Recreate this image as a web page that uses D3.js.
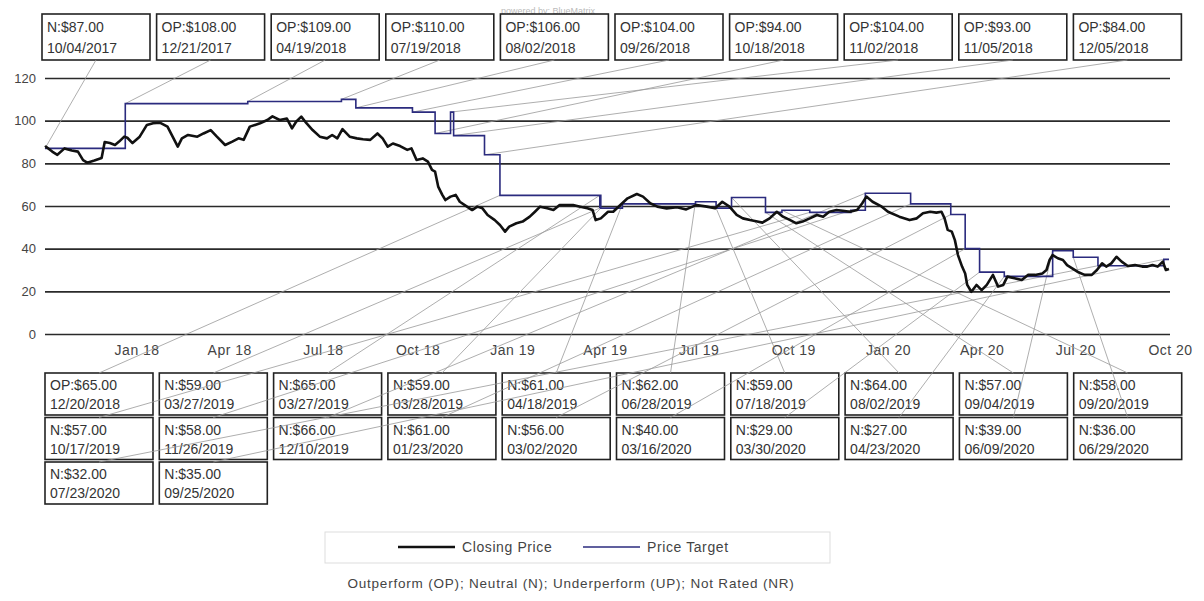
<!DOCTYPE html>
<html>
<head>
<meta charset="utf-8" />
<title>Price target history</title>
<script src="https://d3js.org/d3.v7.min.js"></script>
<style>
  body { margin: 0; background: #fff; }
  text { font-family: "Liberation Sans", Arial, sans-serif; }
</style>
</head>
<body>
<script>
// rating changes / price targets
var ratingCodes = ["N","OP","OP","OP","OP","OP","OP","OP","OP","OP",
                   "OP","N","N","N","N","N","N","N","N","N",
                   "N","N","N","N","N","N","N","N","N","N",
                   "N","N"];
var targetPrices = [87,108,109,110,106,104,94,104,93,84,
                    65,59,65,59,61,62,59,64,57,58,
                    57,58,66,61,56,40,29,27,39,36,
                    32,35];
var targetDates = ["10/04/2017","12/21/2017","04/19/2018","07/19/2018","08/02/2018","09/26/2018","10/18/2018","11/02/2018","11/05/2018","12/05/2018",
                   "12/20/2018","03/27/2019","03/27/2019","03/28/2019","04/18/2019","06/28/2019","07/18/2019","08/02/2019","09/04/2019","09/20/2019",
                   "10/17/2019","11/26/2019","12/10/2019","01/23/2020","03/02/2020","03/16/2020","03/30/2020","04/23/2020","06/09/2020","06/29/2020",
                   "07/23/2020","09/25/2020"];

// closing price (roughly weekly)
var closeDates = ["2017-10-04","2017-10-05","2017-10-11","2017-10-16","2017-10-23","2017-10-30","2017-11-05","2017-11-10","2017-11-14","2017-11-21",
  "2017-11-28","2017-12-01","2017-12-06","2017-12-11","2017-12-15","2017-12-20","2017-12-23","2017-12-28","2018-01-04","2018-01-11",
  "2018-01-17","2018-01-24","2018-01-31","2018-02-05","2018-02-10","2018-02-14","2018-02-20","2018-03-01","2018-03-07","2018-03-14",
  "2018-03-20","2018-03-28","2018-04-04","2018-04-10","2018-04-15","2018-04-21","2018-05-01","2018-05-08","2018-05-13","2018-05-20",
  "2018-05-27","2018-06-01","2018-06-05","2018-06-10","2018-06-15","2018-06-21","2018-06-28","2018-07-05","2018-07-10","2018-07-15",
  "2018-07-20","2018-07-27","2018-08-03","2018-08-09","2018-08-16","2018-08-23","2018-08-28","2018-09-02","2018-09-07","2018-09-14",
  "2018-09-21","2018-09-25","2018-09-30","2018-10-06","2018-10-11","2018-10-15","2018-10-18","2018-10-21","2018-10-25","2018-10-28",
  "2018-11-02","2018-11-07","2018-11-11","2018-11-18","2018-11-23","2018-11-28","2018-12-03","2018-12-08","2018-12-15","2018-12-20",
  "2018-12-25","2018-12-29","2019-01-05","2019-01-11","2019-01-18","2019-01-23","2019-01-28","2019-02-04","2019-02-10","2019-02-16",
  "2019-02-23","2019-03-01","2019-03-08","2019-03-15","2019-03-20","2019-03-23","2019-03-28","2019-04-04","2019-04-09","2019-04-16",
  "2019-04-23","2019-05-02","2019-05-08","2019-05-15","2019-05-22","2019-05-31","2019-06-10","2019-06-19","2019-06-29","2019-07-09",
  "2019-07-17","2019-07-24","2019-07-31","2019-08-07","2019-08-13","2019-08-20","2019-08-27","2019-09-01","2019-09-08","2019-09-15",
  "2019-09-21","2019-09-28","2019-10-04","2019-10-10","2019-10-17","2019-10-24","2019-10-30","2019-11-05","2019-11-12","2019-11-18",
  "2019-11-25","2019-12-02","2019-12-07","2019-12-11","2019-12-17","2019-12-26","2020-01-01","2020-01-12","2020-01-22","2020-01-29",
  "2020-02-04","2020-02-11","2020-02-17","2020-02-22","2020-02-25","2020-02-28","2020-03-03","2020-03-06","2020-03-09","2020-03-13",
  "2020-03-16","2020-03-18","2020-03-22","2020-03-27","2020-04-01","2020-04-06","2020-04-12","2020-04-17","2020-04-22","2020-04-26",
  "2020-05-03","2020-05-10","2020-05-16","2020-05-23","2020-05-30","2020-06-03","2020-06-06","2020-06-09","2020-06-14","2020-06-19",
  "2020-06-23","2020-06-28","2020-07-03","2020-07-10","2020-07-17","2020-07-22","2020-07-27","2020-07-31","2020-08-05","2020-08-10",
  "2020-08-15","2020-08-21","2020-08-28","2020-09-04","2020-09-09","2020-09-14","2020-09-19","2020-09-24","2020-09-27","2020-09-30"];
var closePrices = [87.5,87.8,85.5,84,87,86,85.5,81.5,80.3,81.3,
  82.5,90,89.5,88.6,90.2,92.5,92,89.5,92.5,98,
  98.8,99,97.2,92.5,87.8,91.7,93.3,92.5,94,95.6,
  92.5,88.6,90.2,91.7,91,97.2,98.8,100.3,102,100.3,
  101,96.4,99.5,101.9,98.8,95.6,92.5,91.7,93.3,91.7,
  96,92.5,91.7,91.3,91,94,91.7,87.8,89.3,88.1,
  86.3,87,81.6,82.3,80.8,76.9,76.1,69.1,65.2,62.8,
  64.4,65.2,62,59.7,58.1,59.7,58.9,55.8,53.4,51.1,
  48,50.3,51.9,52.7,55,57.3,59.7,58.9,58.1,60.5,
  60.5,60.5,59.7,58.9,58.1,53.4,54.2,57.3,57.3,60.5,
  63.6,65.6,64.4,61.3,59.7,58.9,59.4,58.4,60.5,59.7,
  58.9,62,59.7,55.8,54.2,53.4,52.7,52.2,54.2,57.3,
  55,53.4,51.9,52.7,54.2,55.8,55,57.3,58.1,57.8,
  57.3,58.1,61.3,64.4,62,59.7,57.3,55,53.4,54.2,
  56.6,57.3,56.9,57.3,54.2,48.8,48,44,37,31.6,
  28.4,23,19.8,23,20.6,23,27.7,22.2,23,26.9,
  26.1,25.3,27.7,27.7,28.4,30,34.7,37,35.5,34.7,
  32.3,30.8,29.2,27.7,27.7,30,33.1,31.6,33.1,36.2,
  33.9,31.9,32.3,31.6,31.6,32.3,31.6,33.9,30,30.5];

var yTicks = [0, 20, 40, 60, 80, 100, 120];
var xTickDates = ["2018-01-01","2018-04-01","2018-07-01","2018-10-01","2019-01-01","2019-04-01",
                  "2019-07-01","2019-10-01","2020-01-01","2020-04-01","2020-07-01","2020-10-01"];
var seriesNames = ["Closing Price", "Price Target"];
var seriesColors = ["#111111", "#2b2b7e"];
var footnote = "Outperform (OP); Neutral (N); Underperform (UP); Not Rated (NR)";

var W = 1204, H = 601;
var parseIso = d3.timeParse("%Y-%m-%d");
var parseUs = d3.timeParse("%m/%d/%Y");
var endDate = parseIso("2020-09-30");

var svg = d3.select("body").append("svg")
    .attr("width", W)
    .attr("height", H);

var x = d3.scaleTime()
    .domain([parseIso("2017-10-04"), parseIso("2020-10-01")])
    .range([45, 1170]);
var y = d3.scaleLinear()
    .domain([0, 120])
    .range([334, 78]);

svg.append("text")
    .attr("x", 548).attr("y", 14)
    .attr("text-anchor", "middle")
    .attr("font-size", 9)
    .attr("fill", "#bbb")
    .text("powered by: BlueMatrix");

// gridlines + y labels
var yAxis = svg.append("g")
    .attr("transform", "translate(45,0)")
    .call(d3.axisLeft(y).tickValues(yTicks).tickSize(-1125).tickPadding(9));
yAxis.select(".domain").remove();
yAxis.selectAll(".tick line").attr("stroke", "#2a2a2a").attr("stroke-width", 1.6);
yAxis.selectAll(".tick text").attr("font-size", 13).attr("fill", "#444")
    .attr("font-family", "Liberation Sans, Arial, sans-serif");

var xAxis = svg.append("g")
    .attr("transform", "translate(0,342)")
    .call(d3.axisBottom(x).tickValues(xTickDates.map(parseIso))
        .tickFormat(d3.timeFormat("%b %y")).tickSize(0).tickPadding(3));
xAxis.select(".domain").remove();
xAxis.selectAll(".tick text").attr("font-size", 14).attr("fill", "#444")
    .attr("letter-spacing", 0.5)
    .attr("font-family", "Liberation Sans, Arial, sans-serif");

// annotation boxes
var annos = ratingCodes.map(function(r, i) {
  return {label: r + ":$" + targetPrices[i].toFixed(2), date: targetDates[i],
          d: parseUs(targetDates[i]), price: targetPrices[i], i: i};
});
annos.forEach(function(a) {
  if (a.i < 10) {
    a.bx = 42 + a.i * 114.6; a.by = 14; a.bw = 108; a.bh = 46;
    a.ax = a.bx + a.bw / 2; a.ay = a.by + a.bh;
    a.t1 = 18; a.t2 = 39;
  } else {
    var k = a.i - 10;
    a.bx = 45 + (k % 10) * 114.3; a.by = 373 + Math.floor(k / 10) * 44.5; a.bw = 108; a.bh = 42;
    a.ax = a.bx + a.bw / 2; a.ay = a.by;
    a.t1 = 17; a.t2 = 36;
  }
});

var boxes = svg.selectAll("g.anno").data(annos).enter().append("g").attr("class", "anno");
boxes.append("rect")
    .attr("x", function(d) { return d.bx; })
    .attr("y", function(d) { return d.by; })
    .attr("width", function(d) { return d.bw; })
    .attr("height", function(d) { return d.bh; })
    .attr("fill", "#fff")
    .attr("stroke", "#222")
    .attr("stroke-width", 1.6);
boxes.append("text")
    .attr("x", function(d) { return d.bx + 5; })
    .attr("y", function(d) { return d.by + d.t1; })
    .attr("font-size", 14).attr("fill", "#333")
    .text(function(d) { return d.label; });
boxes.append("text")
    .attr("x", function(d) { return d.bx + 5; })
    .attr("y", function(d) { return d.by + d.t2; })
    .attr("font-size", 14).attr("fill", "#333")
    .text(function(d) { return d.date; });

// leader lines
svg.selectAll("line.leader").data(annos).enter().append("line")
    .attr("class", "leader")
    .attr("x1", function(d) { return d.ax; })
    .attr("y1", function(d) { return d.ay; })
    .attr("x2", function(d) { return x(d.d); })
    .attr("y2", function(d) { return y(d.price); })
    .attr("stroke", "#999")
    .attr("stroke-width", 0.8);

// price target step line
var targetPts = annos.map(function(a) { return [a.d, a.price]; });
targetPts.push([endDate, targetPrices[targetPrices.length - 1]]);
var stepLine = d3.line()
    .x(function(d) { return x(d[0]); })
    .y(function(d) { return y(d[1]); })
    .curve(d3.curveStepAfter);
svg.append("path")
    .datum(targetPts)
    .attr("d", stepLine)
    .attr("fill", "none")
    .attr("stroke", seriesColors[1])
    .attr("stroke-width", 1.6);

// closing price
var closePts = closeDates.map(function(d, i) { return [parseIso(d), closePrices[i]]; });
var priceLine = d3.line()
    .x(function(d) { return x(d[0]); })
    .y(function(d) { return y(d[1]); });
svg.append("path")
    .datum(closePts)
    .attr("d", priceLine)
    .attr("fill", "none")
    .attr("stroke", seriesColors[0])
    .attr("stroke-width", 2.6)
    .attr("stroke-linejoin", "round");

// legend
var lg = svg.append("g");
lg.append("rect")
    .attr("x", 325).attr("y", 532).attr("width", 505).attr("height", 31)
    .attr("fill", "#fff").attr("stroke", "#ddd").attr("stroke-width", 1);
var legX = [398, 583];
seriesNames.forEach(function(n, i) {
  lg.append("line")
      .attr("x1", legX[i]).attr("x2", legX[i] + 57)
      .attr("y1", 547).attr("y2", 547)
      .attr("stroke", seriesColors[i]).attr("stroke-width", i === 0 ? 2.6 : 1.6);
  lg.append("text")
      .attr("x", legX[i] + 64).attr("y", 552)
      .attr("font-size", 14).attr("fill", "#444")
      .attr("letter-spacing", 0.6)
      .text(n);
});

svg.append("text")
    .attr("x", 571).attr("y", 588)
    .attr("text-anchor", "middle")
    .attr("font-size", 13.5).attr("fill", "#444")
    .attr("letter-spacing", 0.8)
    .text(footnote);
</script>
</body>
</html>
